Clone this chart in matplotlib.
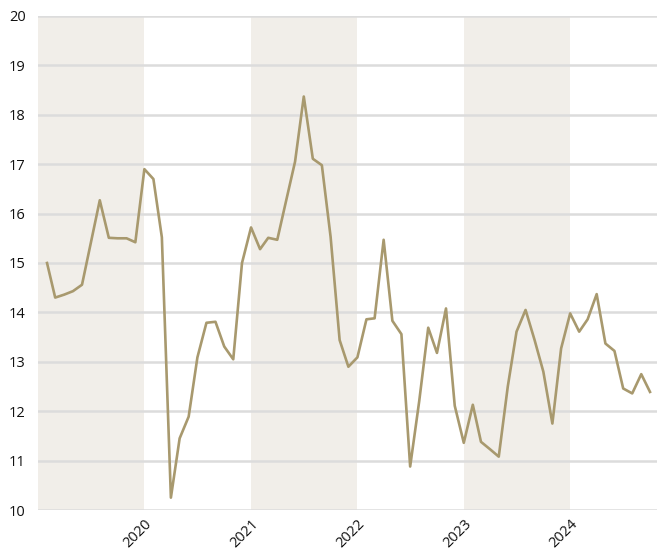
import matplotlib.pyplot as plt
import pandas as pd

# monthly series, Feb 2019 .. Oct 2024
months = pd.date_range("2019-02-01", "2024-10-01", freq="MS")
values = [
    15.0, 14.30, 14.36, 14.43, 14.56, 15.4, 16.27, 15.51, 15.50, 15.50, 15.42,
    16.90, 16.70, 15.52, 10.25, 11.45, 11.89, 13.09, 13.79, 13.81, 13.31, 13.05, 15.0,
    15.72, 15.28, 15.51, 15.47, 16.25, 17.05, 18.37, 17.11, 16.98, 15.53, 13.44, 12.90,
    13.09, 13.86, 13.88, 15.47, 13.83, 13.56, 10.88, 12.2, 13.69, 13.18, 14.08, 12.11,
    11.36, 12.13, 11.38, 11.23, 11.08, 12.50, 13.61, 14.05, 13.44, 12.80, 11.75, 13.27,
    13.98, 13.61, 13.86, 14.37, 13.37, 13.22, 12.46, 12.36, 12.75, 12.39,
]
shaded_years = [2019, 2021, 2023]
tick_years = [2020, 2021, 2022, 2023, 2024]
y_ticks = list(range(10, 21))

plt.rcParams['font.family'] = ['Open Sans', 'DejaVu Sans']

fig = plt.figure(figsize=(6.57, 5.51), dpi=100)
ax = fig.add_axes([38 / 657, 1 - 510 / 551, 1 - 38 / 657, (510 - 16) / 551])

for yr in shaded_years:
    ax.axvspan(pd.Timestamp(f"{yr}-01-01"), pd.Timestamp(f"{yr + 1}-01-01"),
               color="#f1eee9", lw=0, zorder=0)

for y in y_ticks:
    ax.axhline(y, color="#dcdcdc", lw=1.8, zorder=1)

ax.plot(months, values, color="#a8996e", lw=1.9, zorder=3)

ax.set_xlim(pd.Timestamp("2019-01-01"), pd.Timestamp("2024-10-25"))
ax.set_ylim(10, 20)
ax.set_yticks(y_ticks)
ax.set_xticks([pd.Timestamp(f"{yr}-01-01") for yr in tick_years])
ax.set_xticklabels([str(yr) for yr in tick_years], rotation=45, ha="right",
                   rotation_mode="anchor")
ax.tick_params(length=0, labelsize=10.5, colors="#111111")
ax.tick_params(axis="y", pad=9)
ax.tick_params(axis="x", pad=5)
for s in ax.spines.values():
    s.set_visible(False)

fig.savefig("out.png", dpi=100)
